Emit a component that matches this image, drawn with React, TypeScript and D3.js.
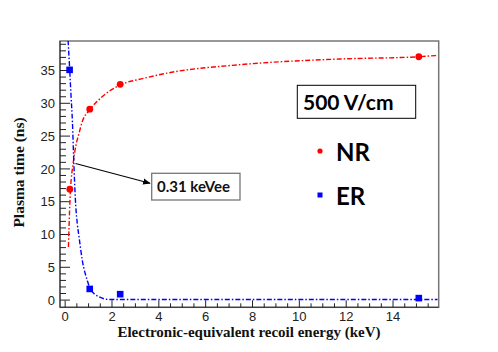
import React from "react";
import * as d3 from "d3";

// measured points
const nrEnergy = [0.2, 1.05, 2.35, 15.1];
const nrTime = [16.9, 29.1, 32.9, 37.1];
const erEnergy = [0.19, 1.05, 2.35, 15.1];
const erTime = [35.1, 1.7, 0.9, 0.3];

// fit curves
const nrFitEnergy = [0.14, 0.19, 0.23, 0.34, 0.45, 0.59, 0.74, 1.05, 1.58, 2.36, 3.35, 4.35, 7.5, 11.7, 15.1, 15.9];
const nrFitTime = [8.1, 13.7, 16.9, 20.8, 23.4, 25.4, 27.3, 29.0, 31.0, 32.8, 33.8, 34.6, 35.9, 36.75, 37.1, 37.3];
const erFitEnergy = [0.125, 0.19, 0.25, 0.31, 0.37, 0.45, 0.52, 0.59, 0.73, 0.94, 1.05, 1.44, 1.86, 4, 8, 12, 15.9];
const erFitTime = [39.6, 35.4, 31.2, 27.2, 21.0, 14.5, 11.6, 9.7, 6.1, 3.05, 1.9, 0.5, 0.1, 0.1, 0.1, 0.1, 0.1];

const xMajor = [0, 2, 4, 6, 8, 10, 12, 14];
const yMajor = [0, 5, 10, 15, 20, 25, 30, 35];

const W = 498;
const H = 352;
const left = 60, right = 438.7, top = 41, bottom = 307.3;

export default function App() {
  const x = d3.scaleLinear().domain([-0.22, 15.95]).range([left, right]);
  const y = d3.scaleLinear().domain([-1.1, 39.5]).range([bottom, top]);

  const xMinor = d3.range(0, 16, 0.5).filter((v) => !xMajor.includes(v));
  const yMinor = d3.range(0, 40, 1).filter((v) => !yMajor.includes(v));

  const line = d3
    .line<[number, number]>()
    .x((d) => x(d[0]))
    .y((d) => y(d[1]))
    .curve(d3.curveMonotoneX);

  const nrFit = line(nrFitEnergy.map((e, i) => [e, nrFitTime[i]]));
  const erFit = line(erFitEnergy.map((e, i) => [e, erFitTime[i]]));

  const serif = "'Liberation Serif', 'Times New Roman', serif";
  const sans = "'Liberation Sans', Arial, sans-serif";
  const label = "Lato, 'Open Sans', sans-serif";

  return (
    <svg
      width={W}
      height={H}
      viewBox={`0 0 ${W} ${H}`}
      style={{ position: "absolute", left: 0, top: 0, background: "#fff" }}
    >
      <defs>
        <clipPath id="plot">
          <rect x={left} y={top} width={right - left} height={bottom - top} />
        </clipPath>
        <marker id="arr" viewBox="0 0 10 10" refX="9" refY="5" markerWidth="7" markerHeight="7" orient="auto">
          <path d="M0,1 L10,5 L0,9 z" fill="#000" />
        </marker>
      </defs>

      {/* frame */}
      <rect x={left} y={top} width={right - left} height={bottom - top} fill="none" stroke="#777" strokeWidth={1.5} />
      <line x1={left} x2={left} y1={top} y2={bottom} stroke="#333" />
      <line x1={left} x2={right} y1={bottom} y2={bottom} stroke="#333" />

      {/* x ticks */}
      {xMajor.map((v) => (
        <g key={"xm" + v}>
          <line x1={x(v)} x2={x(v)} y1={bottom} y2={bottom - 7} stroke="#222" />
          <text x={x(v)} y={320.7} textAnchor="middle" fontFamily={sans} fontSize={13} fill="#222">
            {v}
          </text>
        </g>
      ))}
      {xMinor.map((v) => (
        <line key={"xn" + v} x1={x(v)} x2={x(v)} y1={bottom} y2={bottom - 4} stroke="#222" />
      ))}

      {/* y ticks */}
      {yMajor.map((v) => (
        <g key={"ym" + v}>
          <line x1={left} x2={left + 10} y1={y(v)} y2={y(v)} stroke="#222" />
          <text x={55} y={y(v) + 4.7} textAnchor="end" fontFamily={sans} fontSize={13} fill="#222">
            {v}
          </text>
        </g>
      ))}
      {yMinor.map((v) => (
        <line key={"yn" + v} x1={left} x2={left + 6} y1={y(v)} y2={y(v)} stroke="#222" />
      ))}

      {/* fits */}
      <g clipPath="url(#plot)" fill="none">
        <path d={nrFit || ""} stroke="#ff0000" strokeWidth={1.4} strokeDasharray="5,2,1.5,2" />
        <path d={erFit || ""} stroke="#0000ff" strokeWidth={1.4} strokeDasharray="5,2,1.5,2" />
      </g>

      {/* points */}
      {nrEnergy.map((e, i) => (
        <circle key={"nr" + i} cx={x(e)} cy={y(nrTime[i])} r={3.4} fill="#ff0000" />
      ))}
      {erEnergy.map((e, i) => (
        <rect key={"er" + i} x={x(e) - 3.3} y={y(erTime[i]) - 3.3} width={6.6} height={6.6} fill="#0000ff" />
      ))}

      {/* crossing annotation */}
      <line x1={75.5} y1={163.5} x2={150} y2={183.2} stroke="#000" strokeWidth={1.1} markerEnd="url(#arr)" />
      <rect x={151.7} y={173.3} width={88.3} height={26.7} fill="#fff" stroke="#777" strokeWidth={1.3} />
      <text x={157} y={191.7} fontFamily={label} fontWeight="bold" fontSize={15} fill="#111">
        0.31 keVee
      </text>

      {/* field box */}
      <rect x={297.3} y={85.3} width={118.4} height={33} fill="#fff" stroke="#000" strokeWidth={1} />
      <text x={303} y={109.5} fontFamily={label} fontWeight="bold" fontSize={21} fill="#000">
        500 V/cm
      </text>

      {/* legend */}
      <circle cx={320} cy={151} r={2.6} fill="#ff0000" />
      <text x={336} y={160.7} fontFamily={label} fontWeight="bold" fontSize={24} fill="#000">
        NR
      </text>
      <rect x={317.5} y={192.5} width={5} height={5} fill="#0000ff" />
      <text x={336} y={205} fontFamily={label} fontWeight="bold" fontSize={24} fill="#000">
        ER
      </text>

      {/* axis titles */}
      <text x={249} y={337} textAnchor="middle" fontFamily={serif} fontWeight="bold" fontSize={15} fill="#111">
        Electronic-equivalent recoil energy (keV)
      </text>
      <text
        transform={`translate(24,172.5) rotate(-90)`}
        textAnchor="middle"
        fontFamily={serif}
        fontWeight="bold"
        fontSize={15.5}
        fill="#111"
      >
        Plasma time (ns)
      </text>
    </svg>
  );
}
